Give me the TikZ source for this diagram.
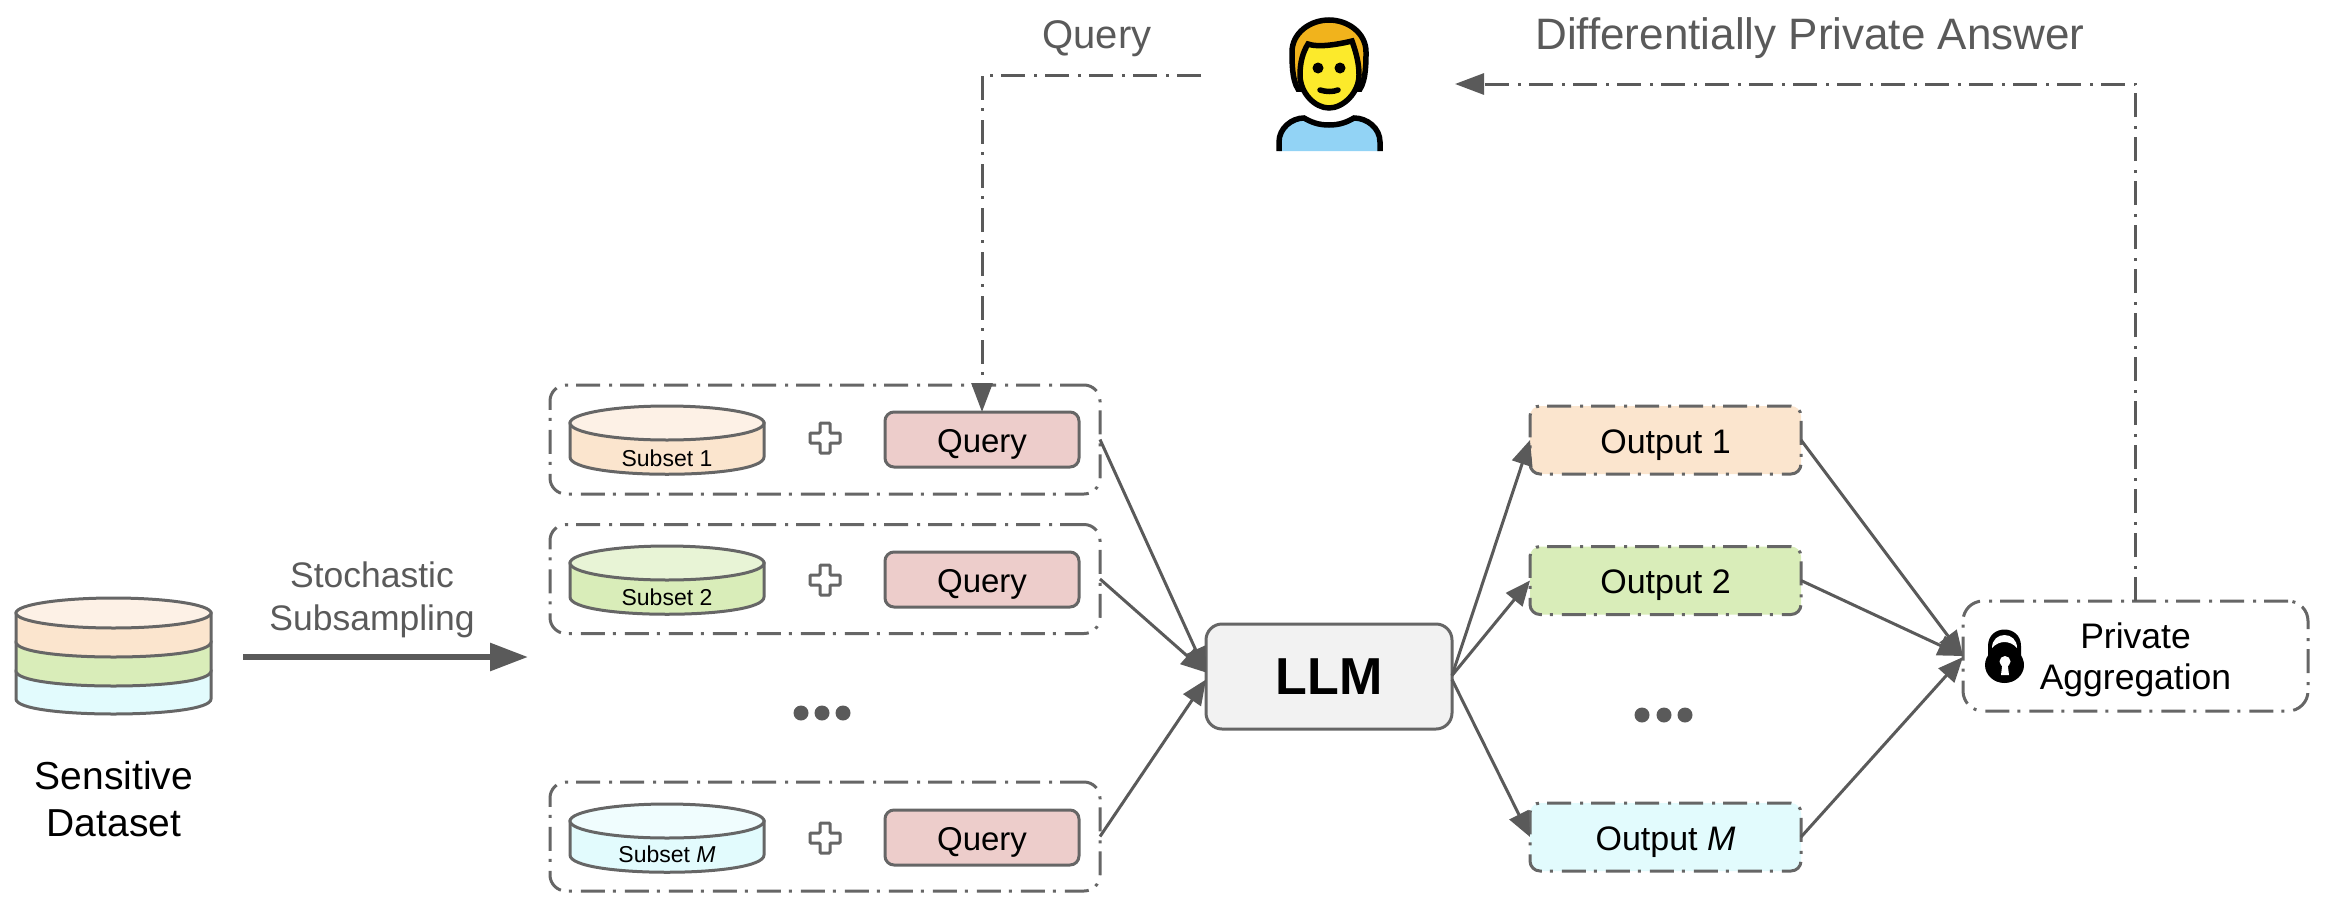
\documentclass[tikz,border=0pt]{standalone}
\usepackage{fontspec}
\setmainfont{Liberation Sans}
\usetikzlibrary{arrows.meta}
\definecolor{linegray}{HTML}{666666}
\definecolor{arrowgray}{HTML}{5A5A5A}
\definecolor{peachbody}{HTML}{FBE5CE}
\definecolor{peachtop}{HTML}{FDF1E6}
\definecolor{greenbody}{HTML}{D9EDB9}
\definecolor{greentop}{HTML}{E8F4D6}
\definecolor{cyanbody}{HTML}{E2FBFD}
\definecolor{cyantop}{HTML}{F0FDFE}
\definecolor{queryfill}{HTML}{EDCDCB}
\definecolor{llmfill}{HTML}{F2F2F2}
\definecolor{hairfill}{HTML}{F1B31C}
\definecolor{facefill}{HTML}{FCEA2B}
\definecolor{shirtfill}{HTML}{92D3F5}
\tikzset{
	dashdot/.style={dash pattern=on 24pt off 8pt on 3pt off 9pt},
	groupbox/.style={draw=linegray, line width=3pt, dashdot, rounded corners=16pt, minimum width=550pt, minimum height=109pt, inner sep=0pt, outer sep=0pt},
	querybox/.style={draw=linegray, line width=3pt, fill=queryfill, rounded corners=9pt, minimum width=194pt, minimum height=55pt, inner sep=0pt, outer sep=0pt, text height=26pt, text depth=0pt, font=\fontsize{33}{40}\selectfont},
	outputbox/.style={draw=linegray, line width=3pt, dashdot, rounded corners=10pt, minimum width=271pt, minimum height=68pt, inner sep=0pt, outer sep=0pt, text height=26pt, text depth=0pt, font=\fontsize{34}{40}\selectfont},
	subsetlabel/.style={inner sep=0pt, font=\fontsize{23}{26}\selectfont},
	graylabel/.style={inner sep=0pt, text=arrowgray, align=center},
	morecircle/.style={circle, fill=arrowgray, minimum size=15pt, inner sep=0pt},
	flow/.style={draw=arrowgray, line width=3pt, -{Triangle[length=25pt,width=21pt]}},
	feedback/.style={draw=arrowgray, line width=3pt, dashdot, -{Triangle[length=29pt,width=21pt]}},
	pics/subsetdisk/.style n args={2}{code={
		\path[fill=#1, draw=linegray, line width=3pt] (-97,0) -- (-97,34) .. controls (-97,57) and (97,57) .. (97,34) -- (97,0) -- cycle;
		\path[fill=#2, draw=linegray, line width=3pt] (0,0) ellipse[x radius=97, y radius=17];
	}},
	pics/plusmark/.style={code={
		\path[draw=linegray, line width=3pt, fill=white, rounded corners=1pt] (-5,-15) -- (5,-15) -- (5,-5) -- (15,-5) -- (15,5) -- (5,5) -- (5,15) -- (-5,15) -- (-5,5) -- (-15,5) -- (-15,-5) -- (-5,-5) -- cycle;
	}},
}
\begin{document}
\begin{tikzpicture}[x=1pt, y=-1pt]
	\useasboundingbox (0,0) rectangle (2340,913);

	% sensitive dataset
	\path[fill=cyanbody, draw=linegray, line width=3pt] (16,671) -- (16,699) .. controls (16,719) and (211,719) .. (211,699) -- (211,671) -- cycle;
	\path[fill=greenbody, draw=linegray, line width=3pt] (16,642) -- (16,671) .. controls (16,691) and (211,691) .. (211,671) -- (211,642) -- cycle;
	\path[fill=peachbody, draw=linegray, line width=3pt] (16,613) -- (16,642) .. controls (16,662) and (211,662) .. (211,642) -- (211,613) -- cycle;
	\path[fill=peachtop, draw=linegray, line width=3pt] (113.5,613) ellipse[x radius=97.5, y radius=15];
	\node[inner sep=0pt, align=center, font=\fontsize{39}{47}\selectfont] (dataset) at (114,799) {Sensitive\\Dataset};

	% subsampling arrow
	\coordinate (sampleStart) at (243,657);
	\coordinate (sampleEnd) at (528,657);
	\draw[draw=arrowgray, line width=6pt, -{Triangle[length=38pt,width=27pt]}] (sampleStart) -- (sampleEnd);
	\node[graylabel, font=\fontsize{35.5}{43}\selectfont] (sampling) at (372,600) {Stochastic\\Subsampling};

	% subsets and queries
	\node[groupbox] (group1) at (825,439.5) {};
	\node[groupbox] (group2) at (825,579) {};
	\node[groupbox] (group3) at (825,836.5) {};

	\pic at (667,423) {subsetdisk={peachbody}{peachtop}};
	\pic at (667,563) {subsetdisk={greenbody}{greentop}};
	\pic at (667,821) {subsetdisk={cyanbody}{cyantop}};
	\node[subsetlabel] (subset1) at (667,458) {Subset 1};
	\node[subsetlabel] (subset2) at (667,597) {Subset 2};
	\node[subsetlabel] (subset3) at (667,854) {Subset \textit{M}};

	\pic at (825,438) {plusmark};
	\pic at (825,580) {plusmark};
	\pic at (825,838) {plusmark};

	\node[querybox] (query1) at (982,439.5) {Query};
	\node[querybox] (query2) at (982,579.5) {Query};
	\node[querybox] (query3) at (982,837.5) {Query};

	\node[morecircle] (dotA) at (801,713) {};
	\node[morecircle] (dotB) at (822,713) {};
	\node[morecircle] (dotC) at (843,713) {};

	% model
	\node[draw=linegray, line width=3pt, fill=llmfill, rounded corners=16pt, minimum width=246pt, minimum height=105pt, inner sep=0pt, outer sep=0pt, text height=35pt, text depth=0pt, font=\bfseries\fontsize{52}{60}\selectfont] (llm) at (1329,676.5) {LLM};

	% outputs
	\node[outputbox, fill=peachbody] (output1) at (1665.5,440) {Output 1};
	\node[outputbox, fill=greenbody] (output2) at (1665.5,580.5) {Output 2};
	\node[outputbox, fill=cyanbody] (output3) at (1665.5,837) {Output \textit{M}};

	\node[morecircle] (dotD) at (1642,715) {};
	\node[morecircle] (dotE) at (1664,715) {};
	\node[morecircle] (dotF) at (1685,715) {};

	% aggregation
	\node[draw=linegray, line width=3pt, dashdot, rounded corners=20pt, minimum width=345pt, minimum height=110pt, inner sep=0pt, outer sep=0pt] (private) at (2135.5,656) {};
	\node[inner sep=0pt, align=center, font=\fontsize{35.5}{41}\selectfont] (privateLabel) at (2135.5,660) {Private\\Aggregation};
	\fill[black] (1988,665) -- (1988,646) .. controls (1988,624) and (2021,624) .. (2021,646) -- (2021,665) -- cycle;
	\fill[black] (2004.5,665) ellipse[x radius=19.5, y radius=18];
	\fill[white] (1992,648) .. controls (1992,630.7) and (2017,630.7) .. (2017,648) .. controls (2010,640) and (1999,640) .. (1992,648) -- cycle;
	\fill[white] (2005,661.5) circle[radius=5.5];
	\fill[white] (2002.5,663) -- (2007.5,663) -- (2009,675) -- (2001,675) -- cycle;

	% user
	\path[fill=hairfill, draw=black, line width=5.5pt] (1298,89) .. controls (1292,80) and (1292,62) .. (1292,52) .. controls (1292,33) and (1310,20) .. (1329,20) .. controls (1348,20) and (1366,33) .. (1366,52) .. controls (1366,62) and (1366,80) .. (1360,89) -- cycle;
	\path[fill=facefill, draw=black, line width=5.5pt] (1308,44) .. controls (1318,48) and (1340,44) .. (1352,41) .. controls (1357,55) and (1359,65) .. (1359,75) .. controls (1359,93) and (1343,108) .. (1329,108) .. controls (1315,108) and (1300,93) .. (1300,75) .. controls (1300,62) and (1303,52) .. (1308,44) -- cycle;
	\fill[black] (1318,68) circle[radius=5.5];
	\fill[black] (1340,68) circle[radius=5.5];
	\draw[black, line width=5.5pt, line cap=round] (1320,90) .. controls (1326,92) and (1333,92) .. (1338,90);
	\path[fill=shirtfill, draw=black, line width=5.5pt] (1279,151) -- (1279,142) .. controls (1279,128) and (1292,118) .. (1304,118) .. controls (1311,122) and (1318,125) .. (1329,125) .. controls (1340,125) and (1347,122) .. (1354,118) .. controls (1367,118) and (1380,128) .. (1380,142) -- (1380,151);

	% query and answer routes
	\coordinate (queryStart) at (1201,75);
	\coordinate (answerEnd) at (1455,84);
	\draw[feedback] (queryStart) -| (query1.north);
	\draw[feedback] (private.north) |- (answerEnd);
	\node[graylabel, font=\fontsize{40}{48}\selectfont] (queryLabel) at (1097,39) {Query};
	\node[graylabel, font=\fontsize{44}{48}\selectfont] (answerLabel) at (1810,38) {Differentially Private Answer};

	% arrows to the model
	\draw[flow] (group1.east) -- ([yshift=4pt]llm.west);
	\draw[flow] (group2.east) -- ([yshift=4pt]llm.west);
	\draw[flow] (group3.east) -- ([yshift=-3pt]llm.west);

	% arrows to the outputs
	\draw[flow] ([yshift=1pt]llm.east) -- (output1.west);
	\draw[flow] ([yshift=1pt]llm.east) -- (output2.west);
	\draw[flow] ([yshift=-3pt]llm.east) -- (output3.west);

	% arrows to the aggregation
	\draw[flow] (output1.east) -- (private.west);
	\draw[flow] (output2.east) -- (private.west);
	\draw[flow] (output3.east) -- ([yshift=-1pt]private.west);
\end{tikzpicture}
\end{document}
